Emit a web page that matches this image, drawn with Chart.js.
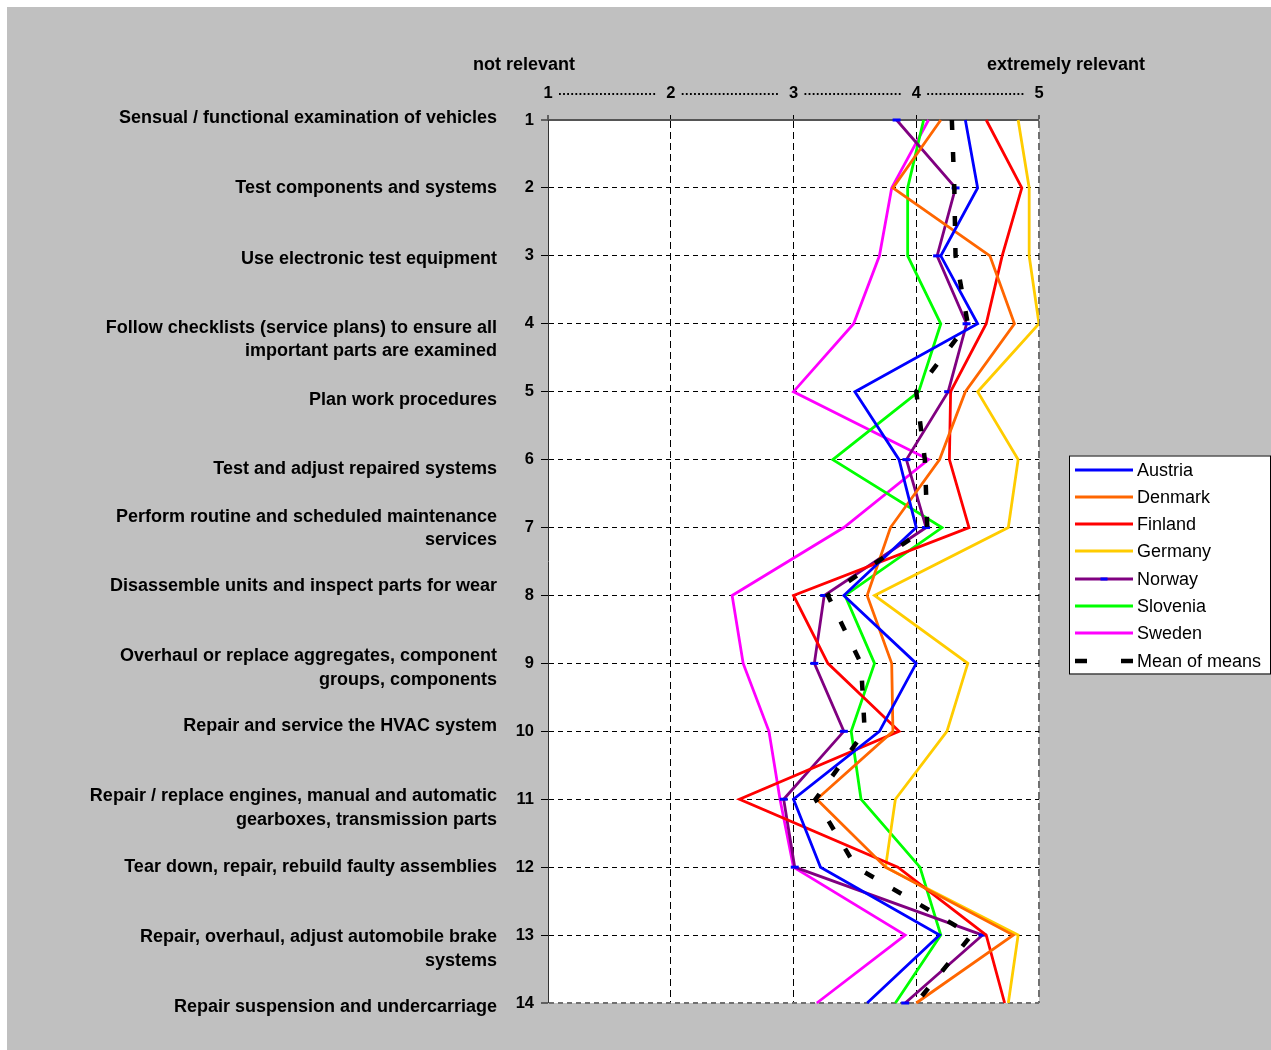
<!DOCTYPE html>
<html>
<head>
<meta charset="utf-8">
<script src="https://cdn.jsdelivr.net/npm/chart.js@4.4.1/dist/chart.umd.min.js"></script>
<style>
  html, body { margin: 0; background: #fff; }
  #wrap { position: absolute; left: 7px; top: 7px; width: 1264px; height: 1043px; background: #c0c0c0; }
</style>
</head>
<body>
<div id="wrap"><canvas id="relevance" width="1264" height="1043"></canvas></div>
<script>
const FONT = '"Liberation Sans", Arial, sans-serif';

const items = ['1', '2', '3', '4', '5', '6', '7', '8', '9', '10', '11', '12', '13', '14'];
const tasks = [
  ['Sensual / functional examination of vehicles'],
  ['Test components and systems'],
  ['Use electronic test equipment'],
  ['Follow checklists (service plans) to ensure all', 'important parts are examined'],
  ['Plan work procedures'],
  ['Test and adjust repaired systems'],
  ['Perform routine and scheduled maintenance', 'services'],
  ['Disassemble units and inspect parts for wear'],
  ['Overhaul or replace aggregates, component', 'groups, components'],
  ['Repair and service the HVAC system'],
  ['Repair / replace engines, manual and automatic', 'gearboxes, transmission parts'],
  ['Tear down, repair, rebuild faulty assemblies'],
  ['Repair, overhaul, adjust automobile brake', 'systems'],
  ['Repair suspension and undercarriage']
];
const lowLabel = 'not relevant';
const highLabel = 'extremely relevant';

const austria  = [4.40, 4.50, 4.20, 4.50, 3.50, 3.86, 4.00, 3.41, 4.00, 3.70, 3.00, 3.22, 4.19, 3.60];
const denmark  = [4.20, 3.81, 4.60, 4.80, 4.40, 4.19, 3.79, 3.60, 3.80, 3.81, 3.19, 3.75, 4.79, 4.00];
const finland  = [4.57, 4.86, 4.70, 4.57, 4.28, 4.27, 4.43, 3.00, 3.28, 3.86, 2.56, 3.85, 4.57, 4.72];
const germany  = [4.83, 4.92, 4.92, 5.00, 4.50, 4.83, 4.75, 3.66, 4.42, 4.25, 3.83, 3.75, 4.83, 4.75];
const norway   = [3.84, 4.32, 4.17, 4.41, 4.26, 3.92, 4.08, 3.25, 3.17, 3.41, 2.92, 3.01, 4.54, 3.91];
const slovenia = [4.06, 3.93, 3.93, 4.20, 4.02, 3.32, 4.21, 3.42, 3.66, 3.47, 3.55, 4.03, 4.20, 3.83];
const sweden   = [4.10, 3.80, 3.70, 3.49, 3.00, 4.10, 3.41, 2.50, 2.59, 2.80, 2.89, 3.00, 3.91, 3.19];
const meanOfMeans = [4.29, 4.31, 4.32, 4.42, 4.00, 4.07, 4.09, 3.28, 3.55, 3.58, 3.18, 3.51, 4.45, 4.00];

function country(label, data, color) {
  return { label, data, borderColor: color, backgroundColor: color, borderWidth: 2.8, pointRadius: 0, order: 1 };
}

const datasets = [
  country('Austria', austria, '#0000ff'),
  country('Denmark', denmark, '#ff6600'),
  country('Finland', finland, '#ff0000'),
  country('Germany', germany, '#ffcc00'),
  Object.assign(country('Norway', norway, '#800080'), {
    pointStyle: 'line', pointRadius: 4, pointBorderColor: '#0000ff', pointBorderWidth: 3
  }),
  country('Slovenia', slovenia, '#00ff00'),
  country('Sweden', sweden, '#ff00ff'),
  { label: 'Mean of means', data: meanOfMeans, borderColor: '#000', backgroundColor: '#000',
    borderWidth: 4.5, borderDash: [10, 22], borderCapStyle: 'butt', pointRadius: 0, order: 0 }
];

// white plot area on the grey page
const plotBackground = {
  id: 'plotBackground',
  beforeDraw(chart) {
    const { ctx, chartArea: a } = chart;
    ctx.save();
    ctx.fillStyle = '#fff';
    ctx.fillRect(a.left, a.top, a.right - a.left, a.bottom - a.top);
    ctx.restore();
  }
};

// task captions left of the item numbers
const captionShift = [-2, 0, 3, 4, 8, 9, -11, -9, -7, -5, -3, 0, 2, 4];
const rowCaptions = {
  id: 'rowCaptions',
  afterDraw(chart) {
    const { ctx, chartArea, scales: { y } } = chart;
    ctx.save();
    ctx.font = 'bold 18px ' + FONT;
    ctx.fillStyle = '#000';
    ctx.textAlign = 'right';
    ctx.textBaseline = 'middle';
    tasks.forEach((lines, i) => {
      const y0 = y.getPixelForValue(i) + captionShift[i];
      lines.forEach((t, k) => ctx.fillText(t, chartArea.left - 51, y0 + k * 23.5));
    });
    ctx.restore();
  }
};

// scale headings and the dotted leaders between 1..5
const scaleHeader = {
  id: 'scaleHeader',
  afterDraw(chart) {
    const { ctx, chartArea, scales: { x } } = chart;
    ctx.save();
    ctx.font = 'bold 18px ' + FONT;
    ctx.fillStyle = '#000';
    ctx.textAlign = 'center';
    ctx.textBaseline = 'middle';
    ctx.fillText(lowLabel, x.getPixelForValue(1) - 24, chartArea.top - 55);
    ctx.fillText(highLabel, x.getPixelForValue(5) + 27, chartArea.top - 55);
    ctx.strokeStyle = '#000';
    ctx.lineWidth = 2;
    ctx.setLineDash([1.8, 2.3]);
    const ty = chartArea.top - 26;
    for (let v = 1; v < 5; v++) {
      ctx.beginPath();
      ctx.moveTo(x.getPixelForValue(v) + 11, ty);
      ctx.lineTo(x.getPixelForValue(v + 1) - 14, ty);
      ctx.stroke();
    }
    ctx.restore();
  }
};

// boxed legend to the right of the plot
const legendBox = {
  id: 'legendBox',
  afterDraw(chart) {
    const { ctx, chartArea } = chart;
    const left = chartArea.right + 30;
    const top = (chartArea.top + chartArea.bottom) / 2 - 106;
    const w = 201, h = 218;
    ctx.save();
    ctx.fillStyle = '#fff';
    ctx.fillRect(left, top, w, h);
    ctx.strokeStyle = '#000';
    ctx.lineWidth = 1;
    ctx.strokeRect(left + 0.5, top + 0.5, w, h);
    ctx.font = '18px ' + FONT;
    ctx.textBaseline = 'middle';
    chart.data.datasets.forEach((ds, i) => {
      const cy = Math.round(top + 14 + i * 27.3);
      const x1 = left + 6, x2 = left + 64;
      ctx.save();
      ctx.strokeStyle = ds.borderColor;
      ctx.lineWidth = ds.borderWidth;
      ctx.lineCap = 'butt';
      ctx.setLineDash(ds.borderDash ? [12, 34] : []);
      ctx.beginPath();
      ctx.moveTo(x1, cy);
      ctx.lineTo(x2, cy);
      ctx.stroke();
      if (ds.pointStyle === 'line') {
        ctx.strokeStyle = ds.pointBorderColor;
        ctx.lineWidth = ds.pointBorderWidth;
        ctx.beginPath();
        ctx.moveTo((x1 + x2) / 2 - 3.5, cy);
        ctx.lineTo((x1 + x2) / 2 + 3.5, cy);
        ctx.stroke();
      }
      ctx.restore();
      ctx.fillStyle = '#000';
      ctx.fillText(ds.label, left + 68, cy + 1);
    });
    ctx.restore();
  }
};

new Chart(document.getElementById('relevance'), {
  type: 'line',
  data: { labels: items, datasets },
  options: {
    indexAxis: 'y',
    responsive: false,
    animation: false,
    elements: { line: { tension: 0 } },
    layout: { padding: { left: 480, right: 232, top: 68, bottom: 47 } },
    plugins: { legend: { display: false }, tooltip: { enabled: false } },
    scales: {
      x: {
        type: 'linear',
        position: 'top',
        min: 1,
        max: 5,
        afterFit: s => { s.height = 45; },
        ticks: { stepSize: 1, color: '#000', padding: 12, font: { family: FONT, size: 16.5, weight: 'bold' } },
        grid: {
          color: c => c.index === 0 ? 'rgba(0,0,0,0)' : (c.index === 4 ? '#707070' : '#000'),
          lineWidth: c => c.index === 0 ? 0 : (c.index === 4 ? 2 : 1),
          tickLength: 5,
          tickColor: '#000',
          tickWidth: 1
        },
        border: { color: '#555', width: 2, dash: [7, 4] }
      },
      y: {
        type: 'category',
        position: 'left',
        afterFit: s => { s.width = 61; },
        ticks: { color: '#000', padding: 7, font: { family: FONT, size: 16.5, weight: 'bold' } },
        grid: {
          color: c => c.index === 0 ? 'rgba(0,0,0,0)' : (c.index === 13 ? '#707070' : '#000'),
          lineWidth: c => c.index === 0 ? 0 : (c.index === 13 ? 2 : 1),
          tickLength: 7,
          tickColor: '#000',
          tickWidth: 1
        },
        border: { color: '#333', width: 1, dash: [5, 4] }
      }
    }
  },
  plugins: [plotBackground, rowCaptions, scaleHeader, legendBox]
});
</script>
</body>
</html>
